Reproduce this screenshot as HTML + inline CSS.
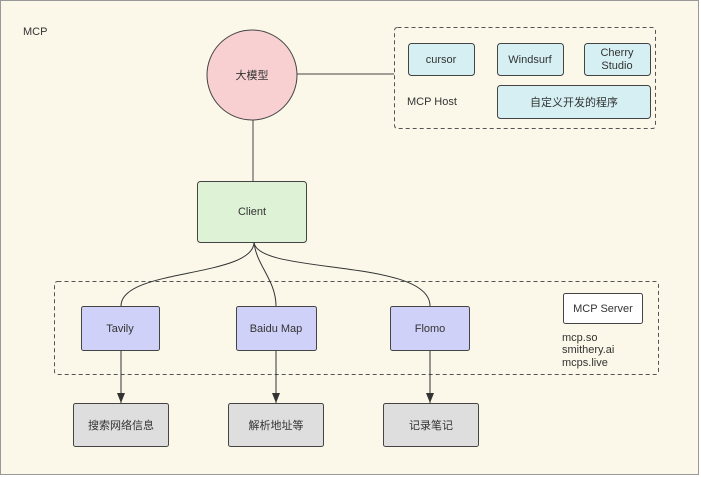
<!DOCTYPE html>
<html><head><meta charset="utf-8"><style>
html,body{margin:0;padding:0;background:#fff;}
svg{display:block;}
text{font-family:"Liberation Sans","Noto Sans CJK SC",sans-serif;font-size:11px;fill:#333;}
</style></head><body>
<svg width="701" height="477" viewBox="0 0 701 477" xmlns="http://www.w3.org/2000/svg">
<defs>
<marker id="b" markerWidth="8" markerHeight="10" refX="4" refY="10" markerUnits="userSpaceOnUse"><path d="M0,0 L8,0 L4,10 Z" fill="#333"/></marker></defs>
<rect x="0.5" y="0.5" width="698" height="474" fill="#fbf8e9" stroke="#999"/>
<text x="23" y="35">MCP</text>
<line x1="297" y1="74" x2="394" y2="74" stroke="#444"/>
<line x1="253" y1="120" x2="253" y2="182" stroke="#444"/>
<circle cx="252" cy="75" r="45" fill="#f8d0d2" stroke="#444"/>
<text x="252" y="79" text-anchor="middle">大模型</text>
<rect x="394.5" y="27.5" width="261" height="101" rx="3" fill="none" stroke="#555" stroke-dasharray="4,3"/>
<rect x="408.5" y="43.5" width="66" height="32" rx="3" fill="#d5eff2" stroke="#444"/>
<text x="441" y="63" text-anchor="middle">cursor</text>
<rect x="497.5" y="43.5" width="66" height="32" rx="3" fill="#d5eff2" stroke="#444"/>
<text x="530" y="63" text-anchor="middle">Windsurf</text>
<rect x="584.5" y="43.5" width="66" height="32" rx="3" fill="#d5eff2" stroke="#444"/>
<text x="617" y="56" text-anchor="middle">Cherry</text>
<text x="617" y="69" text-anchor="middle">Studio</text>
<rect x="497.5" y="85.5" width="153" height="33" rx="3" fill="#d5eff2" stroke="#444"/>
<text x="574" y="106" text-anchor="middle">自定义开发的程序</text>
<text x="407" y="105">MCP Host</text>
<rect x="197.5" y="181.5" width="109" height="61" rx="3" fill="#def2d6" stroke="#444"/>
<text x="252" y="215" text-anchor="middle">Client</text>
<rect x="54.5" y="281.5" width="604" height="93" rx="3" fill="none" stroke="#555" stroke-dasharray="4,3"/>
<path d="M254,242 C254,278 121,268 121,306" fill="none" stroke="#333"/>
<path d="M254,242 C256,265 276,280 276,306" fill="none" stroke="#333"/>
<path d="M254,242 C256,275 430,258 430,306" fill="none" stroke="#333"/>
<rect x="81.5" y="306.5" width="78" height="44" rx="2" fill="#cfd1f8" stroke="#444"/>
<text x="120" y="332" text-anchor="middle">Tavily</text>
<rect x="236.5" y="306.5" width="80" height="44" rx="2" fill="#cfd1f8" stroke="#444"/>
<text x="276" y="332" text-anchor="middle">Baidu Map</text>
<rect x="390.5" y="306.5" width="79" height="44" rx="2" fill="#cfd1f8" stroke="#444"/>
<text x="430" y="332" text-anchor="middle">Flomo</text>
<rect x="563.5" y="293.5" width="79" height="30" rx="2" fill="#fff" stroke="#444"/>
<text x="603" y="312" text-anchor="middle">MCP Server</text>
<text x="562" y="341">mcp.so</text>
<text x="562" y="353">smithery.ai</text>
<text x="562" y="366">mcps.live</text>
<line x1="121" y1="351" x2="121" y2="403" stroke="#333" marker-end="url(#b)"/>
<line x1="276" y1="351" x2="276" y2="403" stroke="#333" marker-end="url(#b)"/>
<line x1="430" y1="351" x2="430" y2="403" stroke="#333" marker-end="url(#b)"/>
<rect x="73.5" y="403.5" width="95" height="43" rx="2" fill="#dedede" stroke="#444"/>
<text x="121" y="429" text-anchor="middle">搜索网络信息</text>
<rect x="228.5" y="403.5" width="95" height="43" rx="2" fill="#dedede" stroke="#444"/>
<text x="276" y="429" text-anchor="middle">解析地址等</text>
<rect x="383.5" y="403.5" width="95" height="43" rx="2" fill="#dedede" stroke="#444"/>
<text x="431" y="429" text-anchor="middle">记录笔记</text>
</svg>
</body></html>
